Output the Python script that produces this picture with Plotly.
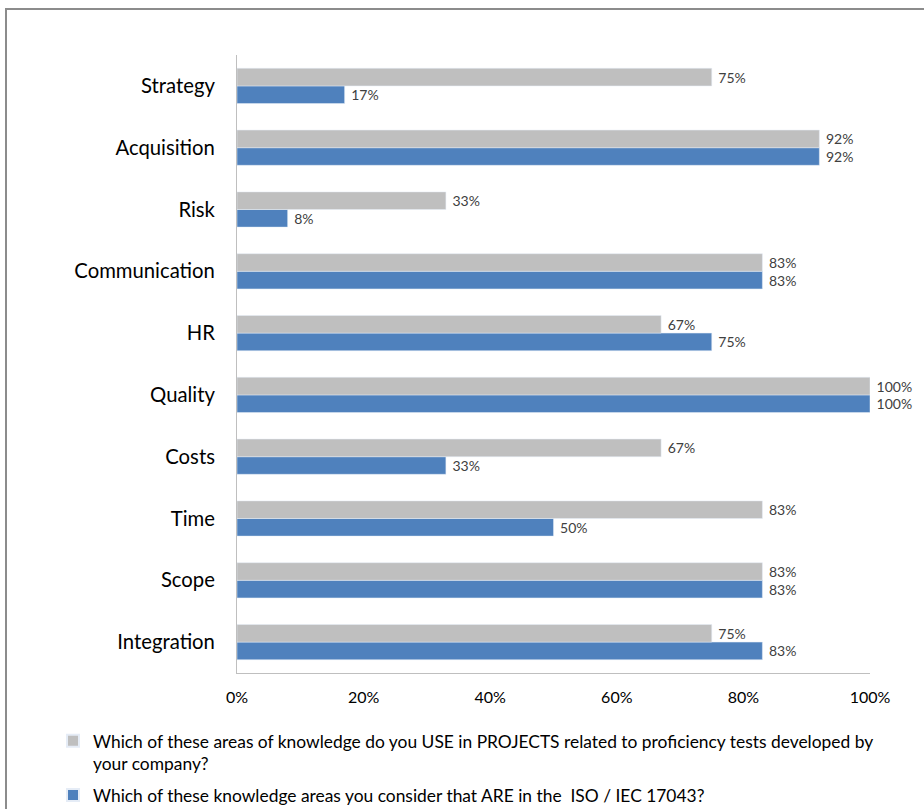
import plotly.graph_objects as go

# Knowledge areas, listed bottom-to-top as they appear on the category axis
areas = ["Integration", "Scope", "Time", "Costs", "Quality",
         "HR", "Communication", "Risk", "Acquisition", "Strategy"]

# Percent of respondents per area
use_in_projects = [75, 83, 83, 67, 100, 67, 83, 33, 92, 75]
in_iso_17043 = [83, 83, 50, 33, 100, 75, 83, 8, 92, 17]

x_ticks = [0, 20, 40, 60, 80, 100]
x_tick_labels = ["0%", "20%", "40%", "60%", "80%", "100%"]

name_use = ("Which of these areas of knowledge do you USE in PROJECTS related to proficiency tests developed by"
            "<br>your company?")
name_iso = "Which of these knowledge areas you consider that ARE in the  ISO / IEC 17043?"

FONT = "Lato, sans-serif"
GRAY = "#BFBFBF"
BLUE = "#4F81BD"
NBSP = "\u00a0"

fig = go.Figure()
fig.add_trace(go.Bar(
    y=areas, x=in_iso_17043, orientation="h", name=name_iso,
    marker=dict(color=BLUE), legendrank=2, legendgroup="iso",
    text=[f"{NBSP}{v}%" for v in in_iso_17043], textposition="outside",
    textfont=dict(size=14, color="#404040", family=FONT), cliponaxis=False,
))
fig.add_trace(go.Bar(
    y=areas, x=use_in_projects, orientation="h", name=name_use,
    marker=dict(color=GRAY), legendrank=1, legendgroup="use",
    text=[f"{NBSP}{v}%" for v in use_in_projects], textposition="outside",
    textfont=dict(size=14, color="#404040", family=FONT), cliponaxis=False,
))

W, H = 924, 809
L, R, T, B = 237, 54, 55, 136
pw, ph = W - L - R, H - T - B

def px_x(p):
    return (p - L) / pw

def px_y(p):
    return (H - B - p) / ph

fig.update_layout(
    width=W, height=H,
    margin=dict(l=L, r=R, t=T, b=B, autoexpand=False),
    paper_bgcolor="white", plot_bgcolor="white",
    font=dict(family=FONT, color="#000000"),
    barmode="group", bargap=0.43, bargroupgap=0,
    showlegend=True,
    legend=dict(
        x=px_x(53), y=px_y(723), xanchor="left", yanchor="top",
        orientation="v", font=dict(size=17.4, family=FONT, color="#000000"),
        traceorder="grouped", tracegroupgap=6,
        itemsizing="constant", valign="top",
    ),
    xaxis=dict(
        range=[0, 100], tickvals=x_ticks, ticktext=x_tick_labels,
        showgrid=False, zeroline=False, showline=True, linecolor="#BFBFBF",
        linewidth=1, ticks="", tickfont=dict(size=16, family=FONT),
        ticklabelstandoff=10, fixedrange=True,
    ),
    yaxis=dict(
        showgrid=False, zeroline=False, showline=True, linecolor="#BFBFBF",
        linewidth=1, ticks="", tickfont=dict(size=20.3, family=FONT),
        ticklabelstandoff=17, fixedrange=True,
    ),
    shapes=[dict(
        type="rect", xref="paper", yref="paper",
        x0=px_x(6), x1=px_x(1000), y0=px_y(900), y1=px_y(9),
        line=dict(color="#8C8C8C", width=2), fillcolor="rgba(0,0,0,0)",
        layer="below",
    )],
)

fig.write_html("out.html")
